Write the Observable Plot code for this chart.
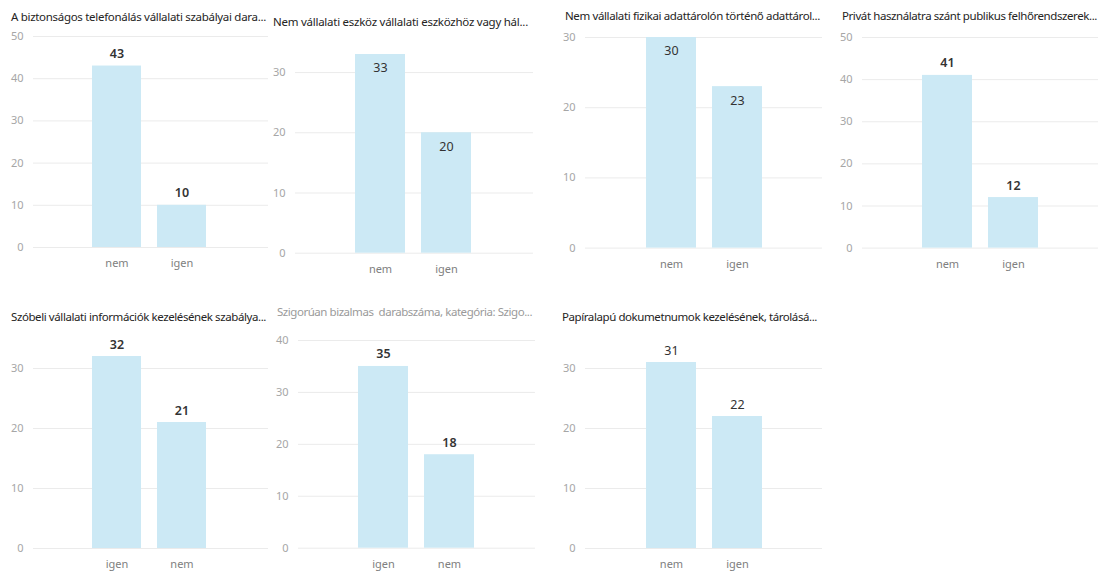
<!DOCTYPE html>
<html><head><meta charset="utf-8">
<script src="https://cdn.jsdelivr.net/npm/d3@7"></script>
<script src="https://cdn.jsdelivr.net/npm/@observablehq/plot@0.6"></script>
<style>
body{margin:0;background:#fff;}
#root{position:relative;width:1102px;height:571px;overflow:hidden;font-family:"Segoe UI","Noto Sans",sans-serif;}
.t{position:absolute;white-space:pre;font-size:11.5px;color:#252423;line-height:14px;}
.p{position:absolute;}
</style></head><body><div id="root"></div>
<script>
// ---- data ----
const titles = [
  "A biztonságos telefonálás vállalati szabályai dara...",
  "Nem vállalati eszköz vállalati eszközhöz vagy hál...",
  "Nem vállalati fizikai adattárolón történő adattárol...",
  "Privát használatra szánt publikus felhőrendszerek...",
  "Szóbeli vállalati információk kezelésének szabálya...",
  "Szigorúan bizalmas  darabszáma, kategória: Szigo...",
  "Papíralapú dokumetnumok kezelésének, tárolásá..."
];
const categories = [
  ["nem","igen"],["nem","igen"],["nem","igen"],["nem","igen"],
  ["igen","nem"],["igen","nem"],["nem","igen"]
];
const values = [
  [43,10],[33,20],[30,23],[41,12],[32,21],[35,18],[31,22]
];
const yMax = [50,33,30,50,36,40,36];
const yTicks = [
  [0,10,20,30,40,50],[0,10,20,30],[0,10,20,30],[0,10,20,30,40,50],
  [0,10,20,30],[0,10,20,30,40],[0,10,20,30]
];

// ---- layout (positions & styles) ----
const layout = [
  {tx:11, tb:21, fl:33, fr:268, y0:247, top:36, inside:false, bold:true, tc:"#252423", al:0.484},
  {tx:273, tb:26, fl:295, fr:533, y0:252.3, top:53.6, inside:true, bold:false, tc:"#252423", al:0.486},
  {tx:565, tb:20, fl:585, fr:822, y0:247.3, top:36.7, inside:true, bold:false, tc:"#252423", al:0.5},
  {tx:842, tb:20, fl:862, fr:1098, y0:247.3, top:36.7, inside:false, bold:true, tc:"#252423", al:0.5},
  {tx:11, tb:321, fl:33, fr:268, y0:547.7, top:331.7, inside:false, bold:true, tc:"#252423", al:0.484},
  {tx:277, tb:316, fl:298, fr:535, y0:547.7, top:340, inside:false, bold:true, tc:"#9a9a9a", al:0.49},
  {tx:562, tb:321, fl:585, fr:822, y0:547.7, top:331.7, inside:false, bold:false, tc:"#252423", al:0.5}
];
const TITLE_W = 255;
const ML = 32, MR = 4, MT = 24, MB = 30;
const root = document.getElementById("root");

titles.forEach((title, i) => {
  const L = layout[i];
  const t = document.createElement("div");
  t.className = "t";
  t.textContent = title;
  t.style.left = L.tx + "px";
  t.style.top = (L.tb - 11) + "px";
  t.style.color = L.tc;
  root.appendChild(t);
  const w = t.getBoundingClientRect().width;
  t.style.letterSpacing = ((TITLE_W - w) / title.length) + "px";

  const data = categories[i].map((c, j) => ({cat: c, val: values[i][j]}));
  const plotH = L.y0 - L.top;
  const width = ML + (L.fr - L.fl) + MR;
  const height = MT + plotH + MB;
  const chart = Plot.plot({
    width, height,
    marginLeft: ML, marginRight: MR, marginTop: MT, marginBottom: MB,
    style: {fontFamily: '"Segoe UI","Noto Sans",sans-serif', background: "transparent", overflow: "visible"},
    x: {domain: categories[i], paddingInner: 0.25, paddingOuter: 0.91, align: L.al, axis: null},
    y: {domain: [0, yMax[i]], axis: null},
    marks: [
      Plot.ruleY(yTicks[i], {stroke: "#ebebeb", strokeWidth: 1}),
      Plot.barY(data, {x: "cat", y: "val", fill: "#cce9f5"}),
      Plot.axisY({ticks: yTicks[i], tickSize: 0, tickPadding: 10, label: null, fill: "#a6a6a6", fontSize: 11}),
      Plot.axisX({tickSize: 0, tickPadding: 12, label: null, fill: "#808080", fontSize: 11}),
      Plot.text(data, {x: "cat", y: "val", text: d => String(d.val),
        dy: L.inside ? 14 : -12, fill: "#333", fontSize: 12.5,
        fontWeight: L.bold ? 600 : 400, letterSpacing: L.bold ? "1px" : "0px"})
    ]
  });
  chart.classList.add("p");
  chart.style.left = (L.fl - ML) + "px";
  chart.style.top = (L.top - MT) + "px";
  root.appendChild(chart);
});
</script>
</body></html>
